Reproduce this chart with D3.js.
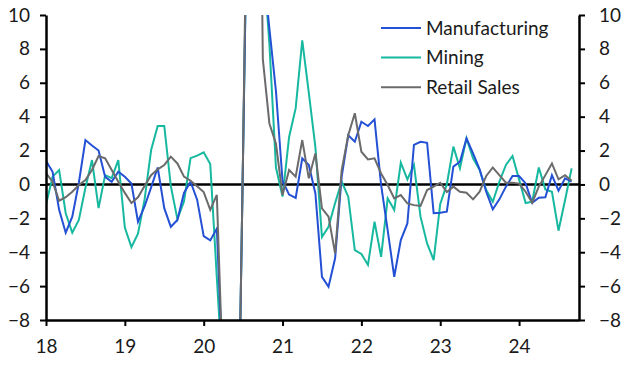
<!DOCTYPE html>
<html><head><meta charset="utf-8">
<script src="https://cdn.jsdelivr.net/npm/d3@7"></script>
<style>
html,body{margin:0;padding:0;background:#fff;}
svg{display:block;font-family:Lato,"Open Sans",sans-serif;}
</style></head>
<body><svg id="chart" width="631" height="366"></svg>
<script>
// Monthly data, Jan 2018 .. Sep 2024
const startYear = 2018;
const manufacturing = [1.4,0.75,-1.5,-2.85,-1.9,0.1,2.62,2.3,2.0,0.45,0.16,0.75,
  0.45,0.05,-2.2,-1.3,-0.17,1.0,-1.4,-2.5,-2.1,-0.5,0.16,-0.9,
  -3.05,-3.3,-2.6,-12,-40,-22,2,26,35,13,9.2,5.5,
  0.2,-0.6,-0.8,1.54,1.15,-0.53,-5.45,-6.04,-4.36,0.46,2.9,2.52,
  3.7,3.45,3.84,-0.03,-2.7,-5.45,-3.28,-2.3,2.33,2.52,2.46,-1.7,
  -1.67,-1.61,1.05,1.34,2.72,1.83,0.89,-0.43,-1.47,-0.88,-0.13,0.5,
  0.5,0.06,-1.08,-0.78,-0.76,0.55,-0.37,0.36,0.16];
const mining = [-1.2,0.46,0.85,-1.7,-2.85,-2.1,-0.2,1.44,-1.4,0.55,0.37,1.44,
  -2.55,-3.7,-2.9,-0.9,2.03,3.45,3.45,-0.1,-2.05,-1.0,1.55,1.7,
  1.9,1.2,-5.5,-12,-40,-22,2,26,30,13.6,8.3,1.0,
  -0.72,2.8,4.5,8.5,5.4,2.2,-3.1,-2.5,-1.1,0.16,-0.72,-3.87,
  -4.1,-4.75,-2.2,-4.27,-0.82,-1.5,1.28,0.3,1.15,-1.9,-3.48,-4.46,
  -1.15,0.0,2.23,0.95,2.72,1.54,0.85,-0.33,-1.02,0.16,1.15,1.68,
  0.3,-1.1,-1.02,1.0,-0.29,-0.43,-2.73,-0.92,0.95];
const retailSales = [0.67,0.16,-0.96,-0.75,-0.43,-0.03,0.26,0.85,1.68,1.54,0.85,0.16,
  -0.5,-1.1,-0.76,-0.09,0.55,0.89,1.15,1.64,1.24,0.46,0.22,-0.1,
  -0.45,-1.5,-0.62,-12.2,-40,-22,2,30,40,7.4,3.6,2.4,
  -0.63,0.85,0.46,2.62,0.36,1.83,-1.41,-1.9,-4.07,0.85,2.9,4.2,
  1.93,1.48,1.54,0.65,-0.03,-0.82,-0.63,-1.12,-1.22,-1.27,-0.33,-0.13,
  0.1,-0.45,-0.13,-0.43,-0.49,-0.88,-0.43,0.5,1.0,0.55,0.1,0.1,
  0.05,-0.43,-1.08,-0.13,0.55,1.24,0.3,0.55,0.22];
const seriesNames = ["Manufacturing","Mining","Retail Sales"];
const seriesColors = ["#2350d4","#17b8a0","#6b6b6b"];
const yTicks = [-8,-6,-4,-2,0,2,4,6,8,10];
const xTickYears = [2018,2019,2020,2021,2022,2023,2024];
const xTickLabels = ["18","19","20","21","22","23","24"];

const svg = d3.select("#chart");
const L = 46, R = 579, T = 15, B = 320;
const x = d3.scaleLinear().domain([2018, 2024.76]).range([L, R]);
const y = d3.scaleLinear().domain([-8, 10]).range([B, T]);

svg.append("defs").append("clipPath").attr("id","clip")
  .append("rect").attr("x",L).attr("y",T).attr("width",R-L).attr("height",B-T);

const fontSize = "19px";
function styleAxis(g){
  g.selectAll("path.domain").attr("stroke","#000").attr("stroke-width",2.5);
  g.selectAll(".tick line").attr("stroke","#000").attr("stroke-width",2);
  g.selectAll(".tick text").attr("fill","#1a1a1a").style("font-size",fontSize).style("font-family","Lato");
}

// zero line
svg.append("line").attr("x1",L).attr("x2",R).attr("y1",y(0)).attr("y2",y(0))
  .attr("stroke","#000").attr("stroke-width",2.5);

const line = d3.line().x((d,i)=>x(startYear + i/12)).y(d=>y(d));
const data = [manufacturing, mining, retailSales];
const order = [1,0,2];
const gl = svg.append("g").attr("clip-path","url(#clip)");
order.forEach(k=>{
  gl.append("path").datum(data[k]).attr("d",line).attr("fill","none")
    .attr("stroke",seriesColors[k]).attr("stroke-width",2).attr("stroke-linejoin","miter");
});

svg.append("g").attr("transform",`translate(${L},0)`)
  .call(d3.axisLeft(y).tickValues(yTicks).tickSize(6).tickSizeOuter(0).tickPadding(10).tickFormat(d3.format("d")))
  .call(styleAxis);
svg.append("g").attr("transform",`translate(${R},0)`)
  .call(d3.axisRight(y).tickValues(yTicks).tickSize(6).tickSizeOuter(0).tickPadding(14).tickFormat(d3.format("d")))
  .call(styleAxis);
svg.append("g").attr("transform",`translate(0,${B})`)
  .call(d3.axisBottom(x).tickValues(xTickYears).tickSize(6).tickSizeOuter(0).tickPadding(14)
    .tickFormat((d,i)=>xTickLabels[i]))
  .call(styleAxis);

// legend
const lg = svg.append("g");
seriesNames.forEach((n,i)=>{
  const yy = 28 + i*29.6;
  lg.append("line").attr("x1",381).attr("x2",421).attr("y1",yy).attr("y2",yy)
    .attr("stroke",seriesColors[i]).attr("stroke-width",2);
  lg.append("text").attr("x",426).attr("y",yy).attr("dy","0.35em")
    .style("font-size",fontSize).attr("fill","#1a1a1a").text(n);
});
</script></body></html>
